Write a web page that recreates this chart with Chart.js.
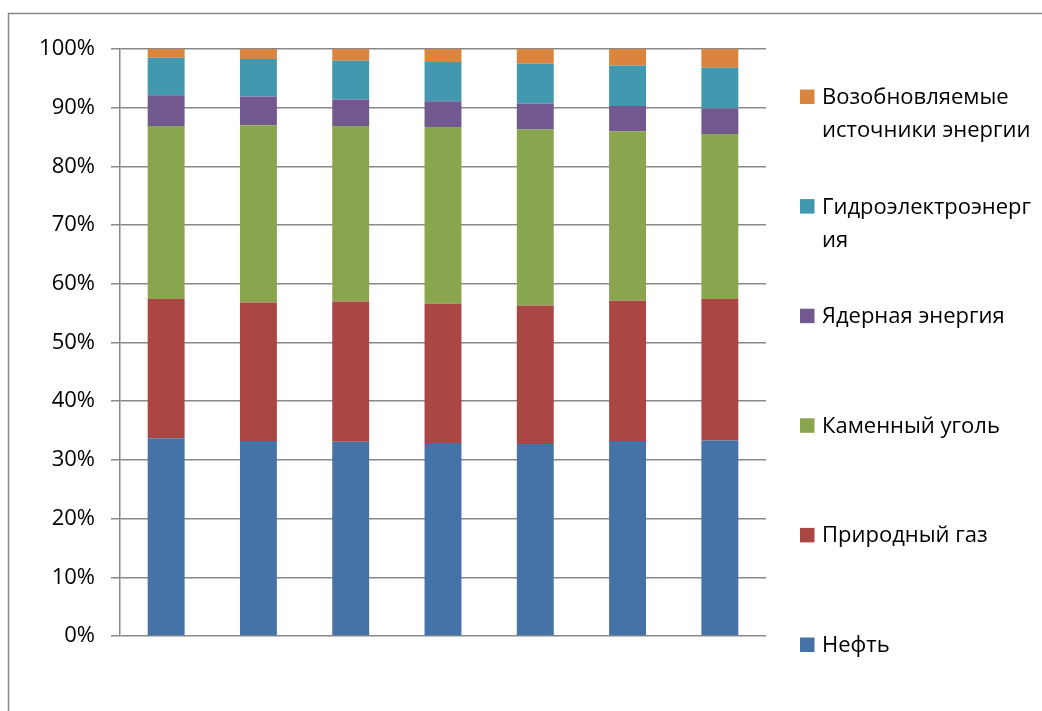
<!DOCTYPE html>
<html>
<head>
<meta charset="utf-8">
<script src="https://cdn.jsdelivr.net/npm/chart.js@4/dist/chart.umd.min.js"></script>
<style>
  html, body { margin: 0; padding: 0; background: #fff; }
  #wrap { position: relative; width: 1042px; height: 711px; }
</style>
</head>
<body>
<div id="wrap"><canvas id="energyChart" width="1042" height="711"></canvas></div>
<script>
// Categories (no labels shown on the axis)
const categories = ['', '', '', '', '', '', ''];

// Shares of the energy mix, %
const oil        = [33.7, 33.2, 33.1, 32.9, 32.7, 33.2, 33.3];
const gas        = [23.7, 23.6, 23.9, 23.7, 23.6, 23.9, 24.1];
const coal       = [29.5, 30.2, 29.9, 30.1, 30.0, 28.9, 28.1];
const nuclear    = [5.2, 4.9, 4.5, 4.4, 4.4, 4.3, 4.4];
const hydro      = [6.4, 6.4, 6.6, 6.7, 6.8, 6.9, 6.9];
const renewables = [1.5, 1.7, 2.0, 2.2, 2.5, 2.8, 3.2];

// Series names, with line breaks as in the legend
const seriesNames = [
    'Нефть',
    'Природный газ',
    'Каменный уголь',
    'Ядерная энергия',
    'Гидроэлектроэнерг\nия',
    'Возобновляемые\nисточники энергии'
];

// Y axis ticks
const yTicks = [0, 10, 20, 30, 40, 50, 60, 70, 80, 90, 100];

const seriesValues = [oil, gas, coal, nuclear, hydro, renewables];
const seriesColors = ['#4572A7', '#AA4643', '#89A54E', '#71588F', '#4198AF', '#DB843D'];

const FONT = '"Open Sans", sans-serif';
const FONT_SIZE = 22;
const GRID = '#888888';

// Outer frame, partly cut off by the window edges
const framePlugin = {
    id: 'frame',
    beforeDraw(chart) {
        const ctx = chart.ctx;
        ctx.save();
        ctx.strokeStyle = GRID;
        ctx.lineWidth = 1.5;
        ctx.beginPath();
        ctx.moveTo(8.5, 711);
        ctx.lineTo(8.5, 13.5);
        ctx.lineTo(1042, 13.5);
        ctx.stroke();
        ctx.restore();
    }
};

// Legend on the right, series listed top-down in reverse order
const sideLegend = {
    id: 'sideLegend',
    afterDraw(chart) {
        const ctx = chart.ctx;
        const sets = chart.data.datasets.slice().reverse();
        ctx.save();
        ctx.font = FONT_SIZE + 'px ' + FONT;
        ctx.textBaseline = 'alphabetic';
        ctx.textAlign = 'left';
        sets.forEach((ds, i) => {
            const base = 104 + i * 109.6;
            ctx.fillStyle = ds.backgroundColor;
            ctx.fillRect(800, base - 14.5, 14.5, 14.5);
            ctx.fillStyle = '#000';
            ds.label.split('\n').forEach((line, j) => {
                ctx.fillText(line, 822, base + j * 33);
            });
        });
        ctx.restore();
    }
};

new Chart(document.getElementById('energyChart').getContext('2d'), {
    type: 'bar',
    data: {
        labels: categories,
        datasets: seriesValues.map((vals, i) => ({
            label: seriesNames[i],
            data: vals,
            backgroundColor: seriesColors[i],
            borderWidth: 0,
            barPercentage: 0.4,
            categoryPercentage: 1.0
        }))
    },
    options: {
        responsive: false,
        animation: false,
        events: [],
        layout: { padding: { top: 49, bottom: 75, left: 0, right: 276 } },
        plugins: {
            legend: { display: false },
            tooltip: { enabled: false }
        },
        scales: {
            x: {
                stacked: true,
                ticks: { display: false },
                grid: { display: false },
                border: { display: false },
                afterFit(scale) { scale.height = 0; }
            },
            y: {
                stacked: true,
                min: 0,
                max: 100,
                afterBuildTicks(scale) { scale.ticks = yTicks.map(v => ({ value: v })); },
                afterFit(scale) { scale.width = 120; },
                ticks: {
                    padding: 16,
                    color: '#000',
                    font: { family: FONT, size: FONT_SIZE },
                    callback: v => v + '%'
                },
                grid: { color: GRID, lineWidth: 1.5, tickLength: 9, drawTicks: true },
                border: { display: true, color: GRID, width: 1.5 }
            }
        }
    },
    plugins: [framePlugin, sideLegend]
});
</script>
</body>
</html>
